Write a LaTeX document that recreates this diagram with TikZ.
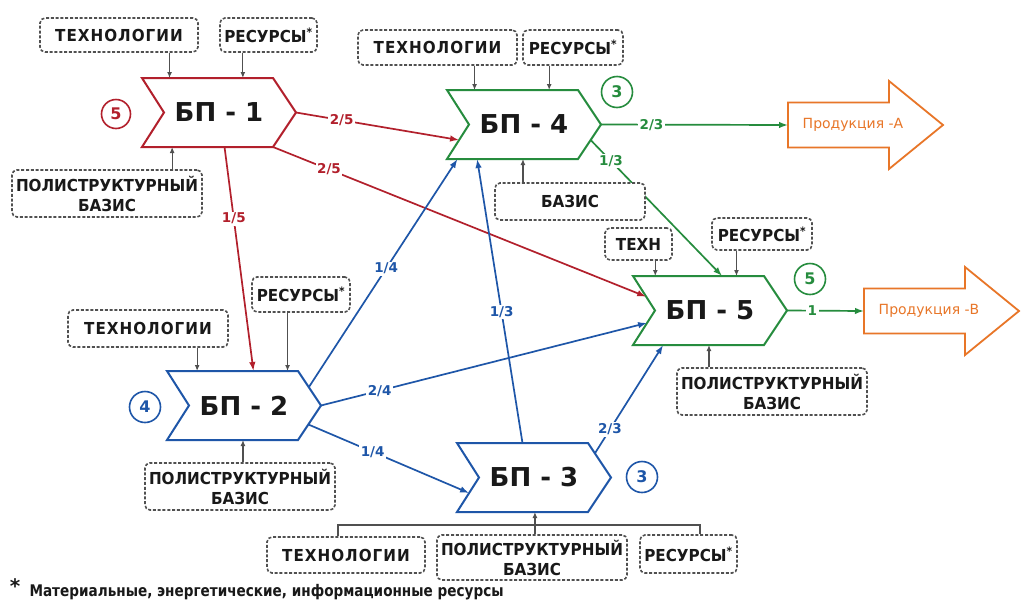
\documentclass[tikz,border=0pt]{standalone}
\usepackage{fontspec}
\setmainfont{DejaVu Sans}
\newfontfamily\narrowfont{DejaVu Sans}[FakeStretch=0.92]
\newfontfamily\notefont{DejaVu Sans}[FakeStretch=0.85]
\usetikzlibrary{calc,arrows.meta}

\definecolor{bpred}{RGB}{178,32,44}
\definecolor{bpgreen}{RGB}{38,140,62}
\definecolor{bpblue}{RGB}{30,86,168}
\definecolor{prodorange}{RGB}{232,118,40}
\definecolor{boxgray}{RGB}{80,80,80}
\definecolor{txtdark}{RGB}{25,25,25}

\tikzset{
  bpshape/.style={line width=2pt, line join=miter, fill=white},
  bptext/.style={font=\fontsize{26}{28}\selectfont\bfseries, text=txtdark},
  inbox/.style={draw=boxgray, dash pattern=on 3pt off 1.8pt, line width=1.6pt,
    rounded corners=5pt, fill=white, font=\narrowfont\fontsize{16.5}{20}\selectfont\bfseries,
    text=txtdark, align=center, inner sep=2pt},
  feed/.style={draw=boxgray, line width=1.2pt, -{Latex[length=6pt,width=5pt]}},
  feedline/.style={draw=boxgray, line width=1.2pt},
  flow/.style={line width=1.7pt, -{Latex[length=9pt,width=6.5pt]}},
  share/.style={fill=white, inner sep=1.5pt, font=\fontsize{13.5}{15}\selectfont\bfseries},
  numring/.style={circle, draw, line width=1.6pt, minimum size=31pt, inner sep=0pt,
    fill=white, font=\fontsize{16}{18}\selectfont\bfseries},
  prodtext/.style={font=\fontsize{14}{16}\selectfont, text=prodorange},
}

\newcommand\techword{{\addfontfeature{LetterSpace=6}ТЕХНОЛОГИИ}}

% business-process chevron: name, left x, top y, colour, label
\newcommand\bpchev[5]{%
  \draw[bpshape, draw=#4] (#2,#3) coordinate (#1-tl) -- ++(131,0) coordinate (#1-tr)
    -- ++(23,34.5) coordinate (#1-tip) -- ++(-23,34.5) coordinate (#1-br)
    -- ++(-131,0) coordinate (#1-bl) -- ++(22,-34.5) coordinate (#1-notch) -- cycle;
  \node[bptext] (#1) at ($(#1-tl)+(77,34.5)$) {#5};
}

% outline product arrow: name, left x, middle y, label
\newcommand\prodarrow[4]{%
  \draw[prodorange, line width=1.8pt, line join=miter, fill=white]
    (#2,#3) coordinate (#1-in) -- ++(0,-22.5) -- ++(101,0) -- ++(0,-21.5)
    -- ++(54,44) -- ++(-54,44) -- ++(0,-21.5) -- ++(-101,0) -- cycle;
  \node[prodtext] (#1) at ($(#1-in)+(65,0)$) {#4};
}

\begin{document}
\begin{tikzpicture}[x=1pt,y=-1pt]
\fill[white] (0,0) rectangle (1021,603);
\useasboundingbox (0,0) rectangle (1021,603);

% process chevrons
\bpchev{bp1}{142}{78}{bpred}{БП - 1}
\bpchev{bp4}{447}{90}{bpgreen}{БП - 4}
\bpchev{bp5}{633}{276}{bpgreen}{БП - 5}
\bpchev{bp2}{167}{371}{bpblue}{БП - 2}
\bpchev{bp3}{457}{443}{bpblue}{БП - 3}

% products
\prodarrow{pa}{788}{125}{Продукция -А}
\prodarrow{pb}{864}{311}{Продукция -В}

% material flows between processes
\draw[flow, bpred] (bp1-tip) -- node[share, pos=0.28]{2/5} ($(bp4-notch)!0.45!(bp4-bl)$);
\draw[flow, bpred] (bp1-br) -- node[share, pos=0.15]{2/5} ($(bp5-tl)!0.6!(bp5-notch)$);
\draw[flow, bpred] ($(bp1-bl)!0.63!(bp1-br)$) -- node[share, pos=0.32]{1/5} ($(bp2-tl)!0.66!(bp2-tr)$);
\draw[flow, bpblue] ($(bp2-tr)!0.47!(bp2-tip)$) -- node[share, pos=0.52]{1/4} ($(bp4-bl)!0.08!(bp4-br)$);
\draw[flow, bpblue] (bp2-tip) -- node[share, pos=0.18]{2/4} ($(bp5-notch)!0.36!(bp5-bl)$);
\draw[flow, bpblue] ($(bp2-tip)!0.55!(bp2-br)$) -- node[share, pos=0.4]{1/4} ($(bp3-notch)!0.45!(bp3-bl)$);
\draw[flow, bpblue] ($(bp3-tl)!0.5!(bp3-tr)$) -- node[share, pos=0.46]{1/3} ($(bp4-bl)!0.23!(bp4-br)$);
\draw[flow, bpblue] ($(bp3-tr)!0.3!(bp3-tip)$) -- node[share, pos=0.22]{2/3} ($(bp5-bl)!0.23!(bp5-br)$);
\draw[flow, bpgreen] (bp4-tip) -- node[share, pos=0.27]{2/3} (pa-in);
\draw[flow, bpgreen] ($(bp4-tip)!0.45!(bp4-br)$) -- node[share, pos=0.155]{1/3} ($(bp5-tl)!0.68!(bp5-tr)$);
\draw[flow, bpgreen] (bp5-tip) -- node[share, pos=0.33]{1} (pb-in);

% share counters
\node[numring, draw=bpred, text=bpred, minimum size=29pt] (n1) at (116,114) {5};
\node[numring, draw=bpgreen, text=bpgreen] (n4) at (617,92) {3};
\node[numring, draw=bpgreen, text=bpgreen] (n5) at (810,279) {5};
\node[numring, draw=bpblue, text=bpblue] (n2) at (145,407) {4};
\node[numring, draw=bpblue, text=bpblue] (n3) at (642,477) {3};

% inputs of БП-1
\node[inbox, minimum width=158pt, minimum height=34pt] (t1) at (119,35) {\techword};
\node[inbox, minimum width=97pt, minimum height=34pt] (r1) at (268.5,35) {РЕСУРСЫ\textsuperscript{*}};
\node[inbox, minimum width=190pt, minimum height=47pt] (p1) at (107,193.5) {ПОЛИСТРУКТУРНЫЙ\\БАЗИС};
\coordinate (bp1-a) at ($(bp1-tl)!0.21!(bp1-tr)$);
\coordinate (bp1-b) at ($(bp1-tl)!0.77!(bp1-tr)$);
\coordinate (bp1-c) at ($(bp1-bl)!0.23!(bp1-br)$);
\draw[feed] (t1.south -| bp1-a) -- (bp1-a);
\draw[feed] (r1.south -| bp1-b) -- (bp1-b);
\draw[feed] (p1.north -| bp1-c) -- (bp1-c);

% inputs of БП-4
\node[inbox, minimum width=159pt, minimum height=35pt] (t4) at (437.5,47.5) {\techword};
\node[inbox, minimum width=100pt, minimum height=35pt] (r4) at (573,47.5) {РЕСУРСЫ\textsuperscript{*}};
\node[inbox, minimum width=150pt, minimum height=37pt] (p4) at (570,201.5) {БАЗИС};
\coordinate (bp4-a) at ($(bp4-tl)!0.21!(bp4-tr)$);
\coordinate (bp4-b) at ($(bp4-tl)!0.78!(bp4-tr)$);
\coordinate (bp4-c) at ($(bp4-bl)!0.58!(bp4-br)$);
\draw[feed] (t4.south -| bp4-a) -- (bp4-a);
\draw[feed] (r4.south -| bp4-b) -- (bp4-b);
\draw[feed] (p4.north -| bp4-c) -- (bp4-c);

% inputs of БП-5
\node[inbox, minimum width=67pt, minimum height=32pt] (t5) at (638.5,244) {ТЕХН};
\node[inbox, minimum width=100pt, minimum height=32pt] (r5) at (762,234) {РЕСУРСЫ\textsuperscript{*}};
\node[inbox, minimum width=190pt, minimum height=47pt] (p5) at (772,391.5) {ПОЛИСТРУКТУРНЫЙ\\БАЗИС};
\coordinate (bp5-a) at ($(bp5-tl)!0.17!(bp5-tr)$);
\coordinate (bp5-b) at ($(bp5-tl)!0.79!(bp5-tr)$);
\coordinate (bp5-c) at ($(bp5-bl)!0.58!(bp5-br)$);
\draw[feed] (t5.south -| bp5-a) -- (bp5-a);
\draw[feed] (r5.south -| bp5-b) -- (bp5-b);
\draw[feed] (p5.north -| bp5-c) -- (bp5-c);

% inputs of БП-2
\node[inbox, minimum width=160pt, minimum height=37pt] (t2) at (148,328.5) {\techword};
\node[inbox, minimum width=98pt, minimum height=35pt] (r2) at (301,294.5) {РЕСУРСЫ\textsuperscript{*}};
\node[inbox, minimum width=190pt, minimum height=47pt] (p2) at (240,486.5) {ПОЛИСТРУКТУРНЫЙ\\БАЗИС};
\coordinate (bp2-a) at ($(bp2-tl)!0.23!(bp2-tr)$);
\coordinate (bp2-b) at ($(bp2-tl)!0.92!(bp2-tr)$);
\coordinate (bp2-c) at ($(bp2-bl)!0.58!(bp2-br)$);
\draw[feed] (t2.south -| bp2-a) -- (bp2-a);
\draw[feed] (r2.south -| bp2-b) -- (bp2-b);
\draw[feed] (p2.north -| bp2-c) -- (bp2-c);

% inputs of БП-3, gathered by a bracket
\node[inbox, minimum width=158pt, minimum height=36pt] (t3) at (346,555) {\techword};
\node[inbox, minimum width=190pt, minimum height=45pt] (p3) at (532,557.5) {ПОЛИСТРУКТУРНЫЙ\\БАЗИС};
\node[inbox, minimum width=97pt, minimum height=38pt] (r3) at (688.5,554) {РЕСУРСЫ\textsuperscript{*}};
\coordinate (bp3-c) at ($(bp3-bl)!0.595!(bp3-br)$);
\coordinate (brL) at (338,525);
\coordinate (brR) at (700,525);
\draw[feedline] (t3.north -| brL) -- (brL) -- (brR) -- (r3.north -| brR);
\draw[feed] (p3.north -| bp3-c) -- (bp3-c);

% footnote
\node[font=\fontsize{20}{20}\selectfont\bfseries, text=txtdark] (fnstar) at (15,586) {*};
\node[anchor=west, font=\notefont\fontsize{16}{18}\selectfont\bfseries, text=txtdark] (fn) at (26,592)
  {Материальные, энергетические, информационные ресурсы};
\end{tikzpicture}
\end{document}
